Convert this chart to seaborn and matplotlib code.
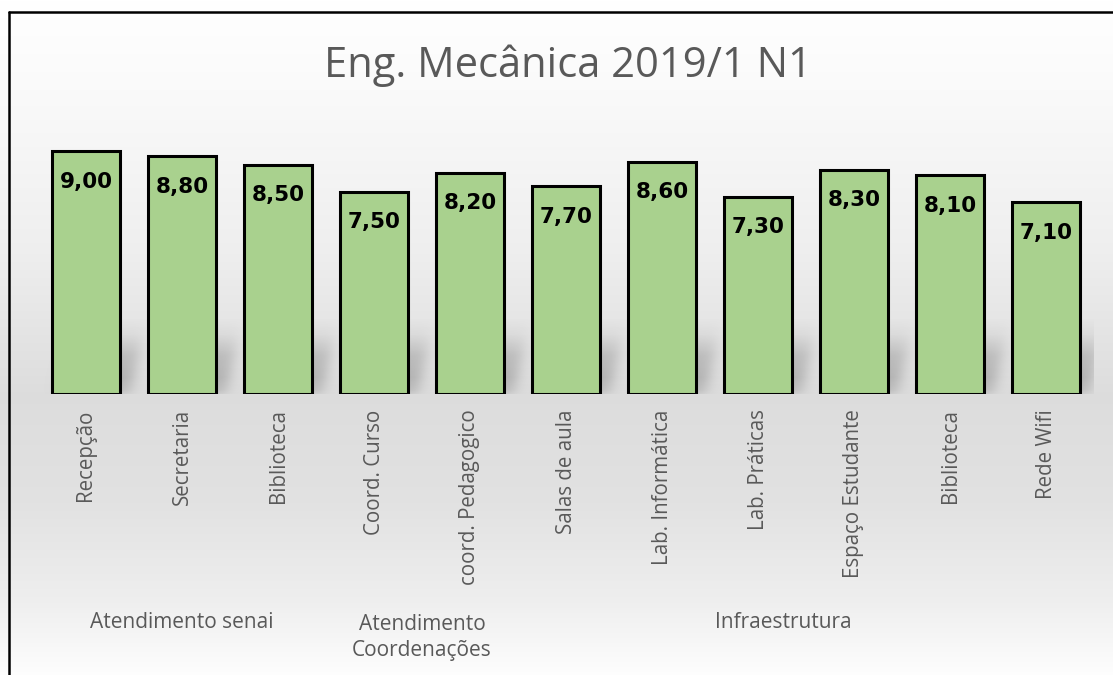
import numpy as np
import pandas as pd
import matplotlib
matplotlib.use("Agg")
import matplotlib.pyplot as plt
from matplotlib.lines import Line2D
from matplotlib import transforms
import seaborn as sns

# ---- data ----
categories = ["Recepção", "Secretaria", "Biblioteca", "Coord. Curso", "coord. Pedagogico",
              "Salas de aula", "Lab. Informática", "Lab. Práticas", "Espaço Estudante",
              "Biblioteca", "Rede Wifi"]
values = [9.00, 8.80, 8.50, 7.50, 8.20, 7.70, 8.60, 7.30, 8.30, 8.10, 7.10]
group_names = ["Atendimento senai", "Atendimento\nCoordenações", "Infraestrutura"]
group_sizes = [3, 2, 6]
title = "Eng. Mecânica 2019/1 N1"

sns.set_style("white")
plt.rcParams['font.family'] = ['Open Sans', 'DejaVu Sans']

W, H = 1113, 675
fig = plt.figure(figsize=(W / 100, H / 100), dpi=100)
fig.patch.set_facecolor("white")

# background gradient (Excel-like)
bg = fig.add_axes([0, 0, 1, 1], zorder=-10)
ys = np.arange(H)
shade = np.interp(ys, [0, 100, 250, 395, 500, 600, 675],
                  [1.0, 0.978, 0.935, 0.865, 0.885, 0.935, 0.995])
rgb = np.repeat(shade[:, None, None], 2, axis=1)
rgb = np.repeat(rgb, 3, axis=2)
bg.imshow(rgb, extent=[0, 1, 0, 1], aspect='auto', interpolation='nearest')
bg.set_xlim(0, 1)
bg.set_ylim(0, 1)
bg.set_axis_off()

ax = fig.add_axes([38 / W, (H - 394) / H, 1056 / W, 270 / H], zorder=1)
ax.patch.set_alpha(0)

df = pd.DataFrame({"pos": np.arange(len(values)), "nota": values})
bar_w = 0.71
sns.barplot(data=df, x="pos", y="nota", color="#a9d18e", saturation=1,
            width=bar_w, edgecolor="black", linewidth=2.2, ax=ax, zorder=3)
for p in ax.patches:
    p.set_facecolor("#a9d18e")

# soft cast shadows behind bars
n = len(values)
xs = np.linspace(-0.5, n - 0.5, 1400)
yy = np.linspace(0, 2.8, 200)
X, Y = np.meshgrid(xs, yy)
alpha = np.zeros_like(X)
for i in range(n):
    off = 0.1 + 0.06 * Y
    lo = i - bar_w / 2 + off
    hi = i + bar_w / 2 + off
    s = 0.045
    hx = 1 / (1 + np.exp(-(X - lo) / s)) * 1 / (1 + np.exp((X - hi) / s))
    alpha = np.maximum(alpha, hx)
vprof = np.interp(yy, [0, 0.15, 0.6, 1.4, 2.2, 2.8], [0.18, 0.32, 0.42, 0.34, 0.08, 0.0])
alpha = alpha * vprof[:, None]
rgba = np.zeros(X.shape + (4,))
rgba[..., :3] = 0.45
rgba[..., 3] = alpha
ax.imshow(rgba, extent=[-0.5, n - 0.5, 0, 2.8], origin='lower', aspect='auto',
          zorder=1, interpolation='bilinear')

ax.set_xlim(-0.5, n - 0.5)
ax.set_ylim(0, 10)
ax.set_yticks([])
ax.set_xlabel("")
ax.set_ylabel("")
for sp in ax.spines.values():
    sp.set_visible(False)

ax.set_xticks(np.arange(n))
ax.set_xticklabels(categories, rotation=90, color="#595959", fontsize=14.8)
ax.tick_params(axis='x', length=0, pad=11)

# value labels
for i, v in enumerate(values):
    ax.annotate(f"{v:.2f}".replace(".", ","), xy=(i, v), xytext=(0, -22),
                textcoords="offset points", ha="center", va="center",
                fontsize=15.5, fontweight="bold", color="black",
                family=["DejaVu Sans"], zorder=5)

# group labels
trans = transforms.blended_transform_factory(ax.transData, fig.transFigure)
starts = np.cumsum([0] + group_sizes[:-1])
centers = [s + (g - 1) / 2 for s, g in zip(starts, group_sizes)]
centers[-1] -= 0.24
for name, cx in zip(group_names, centers):
    if "\n" in name:
        ax.text(cx, 1 - 637.5 / H, name, transform=trans, ha="center", va="center",
                fontsize=15, color="#595959", linespacing=1.3)
    else:
        ax.text(cx, 1 - 623 / H, name, transform=trans, ha="center", va="center",
                fontsize=15, color="#595959")

fig.text(0.5 * (318 + 818) / W, 1 - 66 / H, title, ha="center", va="center",
         fontsize=30, color="#595959")

# chart border (left and top visible)
fig.add_artist(Line2D([8.5 / W, 8.5 / W], [0, 1 - 12 / H], transform=fig.transFigure,
                      color="black", lw=1.8))
fig.add_artist(Line2D([8.5 / W, 1], [1 - 12 / H, 1 - 12 / H], transform=fig.transFigure,
                      color="black", lw=1.8))

fig.savefig("out.png", dpi=100)
